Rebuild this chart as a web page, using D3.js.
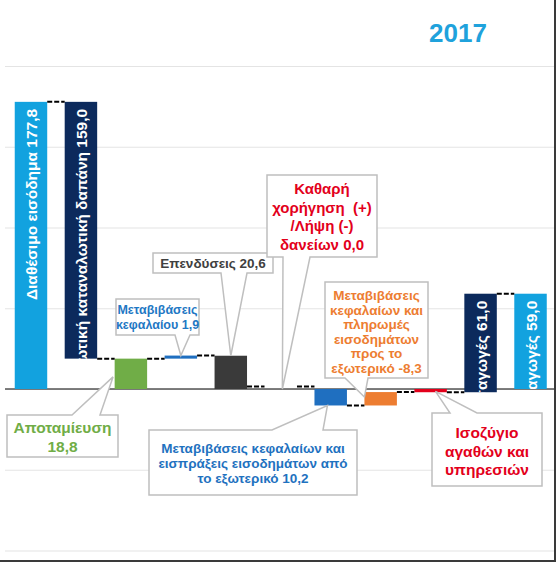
<!DOCTYPE html>
<html>
<head>
<meta charset="utf-8">
<script src="https://cdn.jsdelivr.net/npm/d3@7"></script>
<style>
  html, body { margin: 0; padding: 0; background: #fff; }
  svg { display: block; }
  text { font-family: "Liberation Sans", Arial, sans-serif; font-weight: bold; }
</style>
</head>
<body>
<svg id="chart" width="556" height="562"></svg>
<script>
// ---------------- DATA ----------------
const categories = [
  "Διαθέσιμο εισόδημα",
  "Ιδιωτική καταναλωτική δαπάνη",
  "Αποταμίευση",
  "Μεταβιβάσεις κεφαλαίου",
  "Επενδύσεις",
  "Καθαρή χορήγηση (+) /Λήψη (-) δανείων",
  "Μεταβιβάσεις κεφαλαίων και εισπράξεις εισοδημάτων από το εξωτερικό",
  "Μεταβιβάσεις κεφαλαίων και πληρωμές εισοδημάτων προς το εξωτερικό",
  "Ισοζύγιο αγαθών και υπηρεσιών",
  "Εισαγωγές",
  "Εξαγωγές"
];
const barStart = [0, 18.8, 0, 18.8, 0, 0, 0, -10.2, 0, -2.0, 0];
const barEnd   = [177.8, 177.8, 18.8, 20.7, 20.6, 0, -10.2, -1.9, -2.0, 59.0, 59.0];
const valueLabels = ["177,8", "159,0", "18,8", "1,9", "20,6", "0,0", "10,2", "-8,3", "", "61,0", "59,0"];
// level of the dashed connector between bar i and bar i+1
const connectorLevels = [177.8, 18.8, 18.8, 20.7, 0, 0, -10.2, -1.9, -2.0, 59.0];
const yTicks = [-100, -50, 0, 50, 100, 150, 200];
const yearLabel = "2017";

// callout texts (lines)
const calloutLines = {
  2: ["Αποταμίευση", "18,8"],
  3: ["Μεταβιβάσεις", "κεφαλαίου 1,9"],
  4: ["Επενδύσεις 20,6"],
  5: ["Καθαρή", "χορήγηση  (+)", "/Λήψη (-)", "δανείων 0,0"],
  6: ["Μεταβιβάσεις κεφαλαίων και", "εισπράξεις εισοδημάτων από", "το εξωτερικό 10,2"],
  7: ["Μεταβιβάσεις", "κεφαλαίων και", "πληρωμές", "εισοδημάτων", "προς το", "εξωτερικό -8,3"],
  8: ["Ισοζύγιο", "αγαθών και", "υπηρεσιών"]
};
// in-bar rotated labels
const inBarLabels = {
  0: "Διαθέσιμο εισόδημα 177,8",
  1: "Ιδιωτική καταναλωτική δαπάνη 159,0",
  9: "Εισαγωγές 61,0",
  10: "Εξαγωγές 59,0"
};

// ---------------- STYLE / LAYOUT ----------------
const barColors = ["#12A2DF", "#0C2A5C", "#70AD47", "#1F6FC0", "#3A3A3A", "#E3001B",
                   "#1F6FC0", "#ED7D31", "#E3001B", "#0C2A5C", "#12A2DF"];
const calloutColors = {2: "#70AD47", 3: "#1F78C4", 4: "#404040", 5: "#E3001B",
                       6: "#1F72C0", 7: "#ED7D31", 8: "#E3001B"};
// box geometry, font size, line height, wedge side/base, tip (fraction across bar, value)
const calloutLayout = {
  2: {x: 7,   y: 415, w: 111, h: 42, fs: 15.5, lh: 18.5, cy: 427, side: "top",    b1: 72,  b2: 100, tipF: -0.05, tipV: 7.5},
  3: {x: 116, y: 299, w: 83,  h: 36, fs: 12.5, lh: 15,   cy: 310, side: "bottom", b1: 175, b2: 190, tipF: 0.5,  tipV: 20.7},
  4: {x: 153, y: 253, w: 120, h: 20, fs: 13.5, lh: 15,   cy: 263, side: "bottom", b1: 221, b2: 247, tipF: 0.5,  tipV: 20.6},
  5: {x: 267, y: 175, w: 110, h: 82, fs: 15,   lh: 18.5, cy: 188, side: "bottom", b1: 283, b2: 310, tipF: 0.55, tipV: 0},
  6: {x: 149, y: 430, w: 208, h: 65, fs: 13.5, lh: 15,   cy: 448, side: "top",    b1: 272, b2: 323, tipF: 0.4,  tipV: -10.2},
  7: {x: 325, y: 282, w: 103, h: 96, fs: 13.5, lh: 14.6, cy: 295, side: "bottom", b1: 345, b2: 368, tipF: 0.0,  tipV: -5},
  8: {x: 432, y: 413, w: 110, h: 73, fs: 15.5, lh: 18.5, cy: 432, side: "top",    b1: 450, b2: 477, tipF: 0.65, tipV: -1.5}
};

const W = 556, H = 562;
const svg = d3.select("#chart");

const x = d3.scaleBand()
  .domain(categories)
  .range([6, 555.5])
  .paddingInner(0.35)
  .paddingOuter(0.175);

const y = d3.scaleLinear()
  .domain([-100, 200])
  .range([550.5, 66]);

// background
svg.append("rect").attr("width", W).attr("height", H).attr("fill", "#fff");

// gridlines via axis
const grid = svg.append("g")
  .attr("transform", "translate(5,0)")
  .call(d3.axisLeft(y).tickValues(yTicks).tickSize(-(W - 5)).tickFormat(""));
grid.select(".domain").remove();
grid.selectAll(".tick line").attr("stroke", "#E4E4E4").attr("stroke-width", 1.2);

// baseline (zero)
svg.append("line")
  .attr("x1", 5).attr("x2", W)
  .attr("y1", y(0)).attr("y2", y(0))
  .attr("stroke", "#555").attr("stroke-width", 1.6);

// bars
const idx = d3.range(categories.length);
const defs = svg.append("defs");
idx.forEach(i => {
  defs.append("clipPath").attr("id", "clip" + i)
    .append("rect")
    .attr("x", x(categories[i]))
    .attr("y", y(Math.max(barStart[i], barEnd[i])))
    .attr("width", x.bandwidth())
    .attr("height", Math.abs(y(barStart[i]) - y(barEnd[i])));
});

svg.append("g").selectAll("rect")
  .data(idx.filter(i => barStart[i] !== barEnd[i]))
  .join("rect")
  .attr("x", i => x(categories[i]))
  .attr("y", i => y(Math.max(barStart[i], barEnd[i])))
  .attr("width", x.bandwidth())
  .attr("height", i => Math.max(2, Math.abs(y(barStart[i]) - y(barEnd[i]))))
  .attr("fill", i => barColors[i]);

// connectors
svg.append("g").selectAll("line")
  .data(connectorLevels.map((v, i) => ({v, i})))
  .join("line")
  .attr("x1", d => x(categories[d.i]) + x.bandwidth())
  .attr("x2", d => x(categories[d.i + 1]))
  .attr("y1", d => y(d.v) - (d.v === 0 ? 2.5 : 0))
  .attr("y2", d => y(d.v) - (d.v === 0 ? 2.5 : 0))
  .attr("stroke", "#000")
  .attr("stroke-width", 2)
  .attr("stroke-dasharray", "5,2");

// in-bar rotated labels
Object.keys(inBarLabels).forEach(k => {
  const i = +k;
  const cx = x(categories[i]) + x.bandwidth() / 2;
  const top = y(Math.max(barStart[i], barEnd[i]));
  svg.append("g").attr("clip-path", "url(#clip" + i + ")")
    .append("text")
    .attr("transform", `translate(${cx + 0.5},${top + 7}) rotate(-90)`)
    .attr("text-anchor", "end")
    .attr("dominant-baseline", "central")
    .attr("fill", "#fff")
    .attr("font-size", 15.5)
    .text(inBarLabels[k]);
});

// callouts
function calloutPath(L, tx, ty) {
  const x0 = L.x, x1 = L.x + L.w, y0 = L.y, y1 = L.y + L.h;
  if (L.side === "bottom") {
    return `M${x0},${y0}L${x1},${y0}L${x1},${y1}L${L.b2},${y1}L${tx},${ty}L${L.b1},${y1}L${x0},${y1}Z`;
  }
  return `M${x0},${y0}L${L.b1},${y0}L${tx},${ty}L${L.b2},${y0}L${x1},${y0}L${x1},${y1}L${x0},${y1}Z`;
}
Object.keys(calloutLayout).forEach(k => {
  const i = +k, L = calloutLayout[k];
  const tx = x(categories[i]) + L.tipF * x.bandwidth();
  const ty = y(L.tipV);
  const g = svg.append("g");
  g.append("path")
    .attr("d", calloutPath(L, tx, ty))
    .attr("fill", "#fff")
    .attr("stroke", "#BFBFBF")
    .attr("stroke-width", 1.5)
    .attr("stroke-linejoin", "miter");
  const t = g.append("text")
    .attr("text-anchor", "middle")
    .attr("dominant-baseline", "central")
    .attr("fill", calloutColors[i])
    .attr("font-size", L.fs);
  calloutLines[i].forEach((line, j) => {
    t.append("tspan")
      .attr("x", L.x + L.w / 2)
      .attr("y", L.cy + j * L.lh)
      .attr("xml:space", "preserve")
      .text(line);
  });
});

// year label
svg.append("text")
  .attr("x", 458).attr("y", 33)
  .attr("text-anchor", "middle")
  .attr("dominant-baseline", "central")
  .attr("fill", "#1FA2DC")
  .attr("font-size", 26)
  .text(yearLabel);

// frame edges (right and bottom)
svg.append("line").attr("x1", 555).attr("x2", 555).attr("y1", 0).attr("y2", 561)
  .attr("stroke", "#3A3A3A").attr("stroke-width", 2);
svg.append("line").attr("x1", 0).attr("x2", 556).attr("y1", 561).attr("y2", 561)
  .attr("stroke", "#3A3A3A").attr("stroke-width", 2);
</script>
</body>
</html>
